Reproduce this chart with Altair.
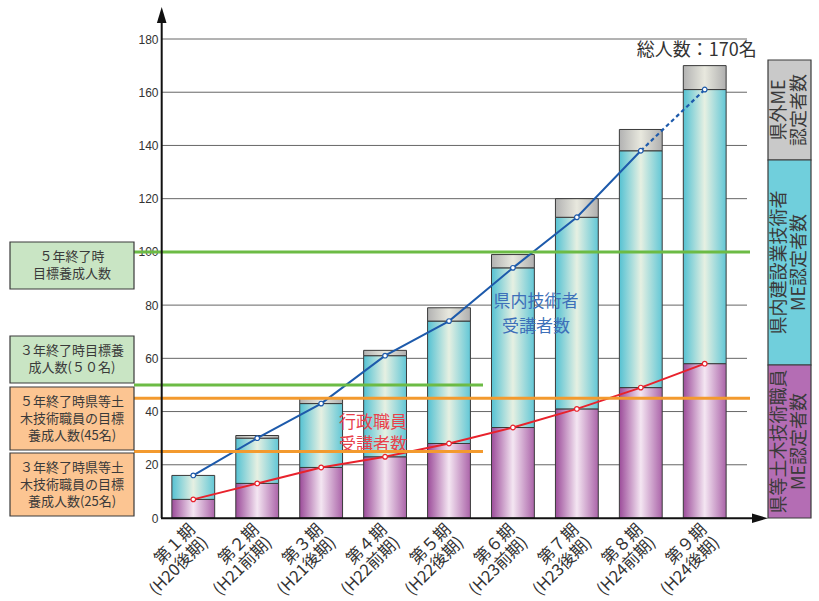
import altair as alt
import pandas as pd

# ---- data -----------------------------------------------------------------
periods = ["第１期", "第２期", "第３期", "第４期", "第５期",
           "第６期", "第７期", "第８期", "第９期"]
terms = ["(H20後期)", "(H21前期)", "(H21後期)", "(H22前期)", "(H22後期)",
         "(H23前期)", "(H23後期)", "(H24前期)", "(H24後期)"]

# ME certifications per cohort (cumulative)
staff_certified = [7, 13, 19, 23, 28, 34, 41, 49, 58]      # 県等土木技術職員
local_certified = [9, 17, 24, 38, 46, 60, 72, 89, 103]     # 県内建設業技術者
outside_certified = [0, 1, 2, 2, 5, 5, 7, 8, 9]            # 県外

# cumulative trainee counts
local_trainees = [16, 30, 43, 61, 74, 94, 113, 138, 161]   # 県内技術者受講者数
staff_trainees = [7, 13, 19, 23, 28, 34, 41, 49, 58]       # 行政職員受講者数

y_ticks = [0, 20, 40, 60, 80, 100, 120, 140, 160, 180]
target_5yr_total = 100
target_3yr_total = 50
target_5yr_staff = 45
target_3yr_staff = 25
total_text = "総人数：170名"

# ---- tables ---------------------------------------------------------------
bars = pd.DataFrame({
    "period": periods,
    "label": [p + "\n" + t for p, t in zip(periods, terms)],
    "staff": staff_certified,
    "local": local_certified,
    "outside": outside_certified,
})
bars["staff_top"] = bars["staff"]
bars["local_top"] = bars["staff"] + bars["local"]
bars["total"] = bars["local_top"] + bars["outside"]

lines = pd.DataFrame({
    "period": periods,
    "local_trainees": local_trainees,
    "staff_trainees": staff_trainees,
    "idx": list(range(len(periods))),
})
last = len(periods) - 1

grid = pd.DataFrame({"v": y_ticks[1:]})
one = pd.DataFrame({"k": [0]})

# ---- styling --------------------------------------------------------------
JP = "Noto Sans CJK JP"
NUM = "Liberation Sans"
GREEN = "#6cbb45"
ORANGE = "#f39a2e"
BLUE = "#1d5aab"
RED = "#e8222c"

y_scale = alt.Scale(domain=[0, 180], nice=False, zero=True)
y_axis = alt.Axis(values=y_ticks, grid=False, domain=False, ticks=False,
                  labelPadding=3, labelFont=NUM, labelFontSize=12,
                  labelColor="#333333", title=None)
x_enc = alt.X("period:N", sort=periods, axis=None,
              scale=alt.Scale(paddingInner=0.33, paddingOuter=0.17))


def cylinder(left, mid, right):
    return alt.Gradient(
        gradient="linear", x1=0, x2=1, y1=0, y2=0,
        stops=[alt.GradientStop(color=left, offset=0),
               alt.GradientStop(color=mid, offset=0.5),
               alt.GradientStop(color=right, offset=1)])


def Y(field):
    return alt.Y(field, scale=y_scale, axis=y_axis)


def block_dy(text, line_height):
    # shift a multi-line label so the whole block is centred on its anchor
    return -(text.count("\n")) * line_height / 2


# ---- layers ---------------------------------------------------------------
gridlines = alt.Chart(grid).mark_rule(color="#666666", strokeWidth=1).encode(
    y=Y("v:Q"), x=alt.value(0), x2=alt.value(586))

bar_style = dict(stroke="#3a3a3a", strokeWidth=1)
purple = alt.Chart(bars).mark_bar(
    color=cylinder("#9c4c9a", "#f4e6f2", "#ab64a9"), **bar_style).encode(
    x=x_enc, y=Y("staff_top:Q"), y2=alt.Y2(datum=0))
cyan = alt.Chart(bars).mark_bar(
    color=cylinder("#55c2d3", "#e6f0e2", "#62c7d6"), **bar_style).encode(
    x=x_enc, y=Y("local_top:Q"), y2="staff_top:Q")
gray = alt.Chart(bars).transform_filter("datum.outside > 0").mark_bar(
    color=cylinder("#b2b2b2", "#e8e8de", "#afafaf"), **bar_style).encode(
    x=x_enc, y=Y("total:Q"), y2="local_top:Q")

x_labels = alt.Chart(bars).mark_text(
    font=JP, fontSize=16.5, lineBreak="\n", lineHeight=18, angle=315,
    align="right", baseline="top", dx=-9, color="#333333").encode(
    x=x_enc, y=alt.value(476), text="label:N")

total_label = alt.Chart(bars).transform_filter(
    f"datum.period == '{periods[-1]}'").mark_text(
    text=total_text, font=JP, fontSize=18, align="right", baseline="alphabetic",
    dx=52, dy=-10, color="#333333").encode(x=x_enc, y=Y("total:Q"))

blue_solid = alt.Chart(lines).transform_filter(f"datum.idx <= {last - 1}").mark_line(
    color=BLUE, strokeWidth=2).encode(x=x_enc, y=Y("local_trainees:Q"))
blue_dash = alt.Chart(lines).transform_filter(f"datum.idx >= {last - 1}").mark_line(
    color=BLUE, strokeWidth=2.2, strokeDash=[4, 3]).encode(
    x=x_enc, y=Y("local_trainees:Q"))
blue_pts = alt.Chart(lines).mark_point(
    shape="circle", filled=True, fill="white", stroke=BLUE, strokeWidth=1.2,
    size=22, opacity=1).encode(x=x_enc, y=Y("local_trainees:Q"))
red_line = alt.Chart(lines).mark_line(color=RED, strokeWidth=2).encode(
    x=x_enc, y=Y("staff_trainees:Q"))
red_pts = alt.Chart(lines).mark_point(
    shape="circle", filled=True, fill="white", stroke=RED, strokeWidth=1.2,
    size=22, opacity=1).encode(x=x_enc, y=Y("staff_trainees:Q"))


def note(text, color, x, y, line_height):
    return alt.Chart(one).mark_text(
        text=text, lineBreak="\n", lineHeight=line_height, font=JP,
        fontSize=17, color=color, align="center", baseline="middle",
        dy=block_dy(text, line_height)).encode(x=alt.value(x), y=alt.value(y))


blue_note = note("県内技術者\n受講者数", "#3d70b9", 375, 275, 25)
red_note = note("行政職員\n受講者数", "#e8414b", 212, 395, 22)


def target_line(value, color, x_end):
    return alt.Chart(pd.DataFrame({"v": [value]})).mark_rule(
        color=color, strokeWidth=3).encode(
        y=Y("v:Q"), x=alt.value(-27), x2=alt.value(x_end))


targets = [
    target_line(target_5yr_total, GREEN, 589),
    target_line(target_3yr_total, GREEN, 322),
    target_line(target_5yr_staff, ORANGE, 589),
    target_line(target_3yr_staff, ORANGE, 322),
]


def note_box(text, fill, top, bottom):
    rect = alt.Chart(one).mark_rect(
        fill=fill, stroke="#3a3a3a", strokeWidth=1.2).encode(
        x=alt.value(-151), x2=alt.value(-27),
        y=alt.value(top), y2=alt.value(bottom))
    label = alt.Chart(one).mark_text(
        text=text, lineBreak="\n", lineHeight=17, font=JP, fontSize=13,
        color="#3a3a3a", align="center", baseline="middle",
        dy=block_dy(text, 17)).encode(
        x=alt.value(-89), y=alt.value((top + bottom) / 2))
    return [rect, label]


boxes = (
    note_box("５年終了時\n目標養成人数", "#c9e5c4", 203, 250)
    + note_box("３年終了時目標養\n成人数(５０名)", "#c9e5c4", 297, 344)
    + note_box("５年終了時県等土\n木技術職員の目標\n養成人数(45名)", "#fcc592", 348, 411)
    + note_box("３年終了時県等土\n木技術職員の目標\n養成人数(25名)", "#fcc592", 414, 477)
)


def legend_block(text, fill, top, bottom):
    rect = alt.Chart(one).mark_rect(
        fill=fill, stroke="#3a3a3a", strokeWidth=1.2).encode(
        x=alt.value(607), x2=alt.value(650),
        y=alt.value(top), y2=alt.value(bottom))
    label = alt.Chart(one).mark_text(
        text=text, lineBreak="\n", lineHeight=20, font=JP, fontSize=18,
        angle=270, color="#3a3a3a", align="center", baseline="middle",
        dy=block_dy(text, 20)).encode(
        x=alt.value(628.5), y=alt.value((top + bottom) / 2))
    return [rect, label]


legend = (
    legend_block("県外ME\n認定者数", "#c9c9c9", 21, 121)
    + legend_block("県内建設業技術者\nME認定者数", "#70cfdc", 121, 326)
    + legend_block("県等土木技術職員\nME認定者数", "#b46db4", 326, 479)
)

# axis lines with arrow heads
y_axis_line = alt.Chart(one).mark_rule(color="#111111", strokeWidth=2).encode(
    x=alt.value(0.7), y=alt.value(-16), y2=alt.value(479))
y_arrow = alt.Chart(one).mark_point(
    shape="M-0.6,1L0,-1L0.6,1Z", filled=True, color="#111111", size=256,
    opacity=1).encode(x=alt.value(0.7), y=alt.value(-24))
x_axis_line = alt.Chart(one).mark_rule(color="#111111", strokeWidth=2).encode(
    y=alt.value(479.3), x=alt.value(0), x2=alt.value(592))
x_arrow = alt.Chart(one).mark_point(
    shape="M-1,-0.6L1,0L-1,0.6Z", filled=True, color="#111111", size=256,
    opacity=1).encode(x=alt.value(599), y=alt.value(479.3))

chart = alt.layer(
    gridlines, purple, cyan, gray,
    blue_solid, blue_dash, red_line, blue_pts, red_pts,
    blue_note, red_note, *targets, *boxes, *legend,
    total_label, x_labels,
    y_axis_line, y_arrow, x_axis_line, x_arrow,
).properties(
    width=576, height=479,
    autosize=alt.AutoSizeParams(type="none"),
    padding={"left": 161, "top": 39, "right": 82, "bottom": 83},
    background="white",
).configure_view(stroke=None)

chart.save("out.html", embed_options={"renderer": "svg", "actions": False})
